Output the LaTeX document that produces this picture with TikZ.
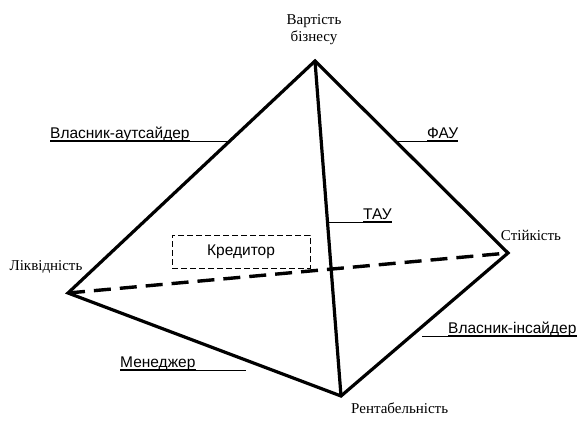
\documentclass[tikz,border=0pt]{standalone}
\usepackage{fontspec}
\setmainfont{Liberation Serif}
\setsansfont{Liberation Sans}
\begin{document}
\begin{tikzpicture}[x=1pt,y=-1pt,
  edge/.style={line width=3.2pt, line cap=round, line join=miter},
  hidden/.style={line width=3.4pt, dash pattern=on 17pt off 9pt},
  vlabel/.style={font=\fontsize{15}{17}\selectfont\rmfamily, inner sep=0pt, align=center},
  slabel/.style={font=\fontsize{15.5}{17}\selectfont\sffamily, inner sep=0pt, anchor=base west},
  ul/.style={line width=1.1pt},
  leader/.style={line width=0.5pt}]
\useasboundingbox (0,0) rectangle (584,429);
\coordinate (A) at (315,61);
\coordinate (L) at (68,293);
\coordinate (R) at (508,253);
\coordinate (B) at (341,396);
% edges
\draw[hidden] (L) -- (R);
\draw[edge] (L) -- (A) -- (R) -- (B) -- cycle;
\draw[edge] (A) -- (B);
% vertex labels
\node[vlabel] (va) at (314,30) {Вартість\\бізнесу};
\node[vlabel] (vl) at (46,267) {Ліквідність};
\node[vlabel] (vr) at (531,235) {Стійкість};
\node[vlabel, anchor=north west] (vb) at (351,403) {Рентабельність};
% creditor box
\node[draw, dash pattern=on 6pt off 3pt, line width=0.7pt, minimum width=138pt, minimum height=33pt,
      font=\fontsize{15.5}{17}\selectfont\sffamily] (kr) at (241,251.5) {Кредитор};
% labels
\node[slabel] (aut) at (50,138.5) {Власник-аутсайдер};
\node[slabel] (fau) at (427,138.5) {ФАУ};
\node[slabel] (tau) at (363,219.5) {ТАУ};
\node[slabel] (men) at (120,367.5) {Менеджер};
\node[slabel] (ins) at (448,333.5) {Власник-інсайдер};
\foreach \n in {aut,fau,tau,men,ins}{
  \draw[ul] ([yshift=-2.5pt]\n.base west) coordinate (\n W) -- ([yshift=-2.5pt]\n.base east) coordinate (\n E);
}
\coordinate (autX) at (230,141);
\coordinate (fauX) at (397,141);
\coordinate (tauX) at (329,222);
\coordinate (menX) at (246,370);
\coordinate (insX) at (422,336);
\draw[leader] (autE) -- (autE -| autX);
\draw[leader] (fauW) -- (fauW -| fauX);
\draw[leader] (tauW) -- (tauW -| tauX);
\draw[leader] (menE) -- (menE -| menX);
\draw[leader] (insW) -- (insW -| insX);
\end{tikzpicture}
\end{document}
